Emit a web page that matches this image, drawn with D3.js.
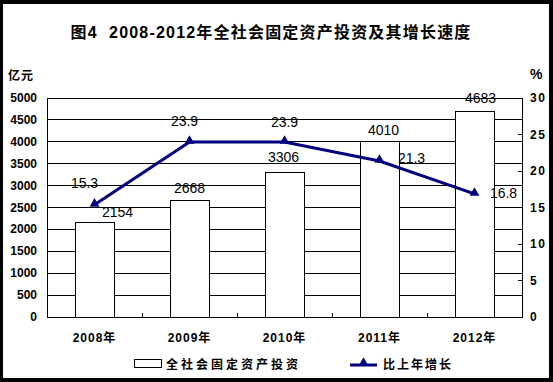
<!DOCTYPE html>
<html>
<head>
<meta charset="utf-8">
<script src="https://cdn.jsdelivr.net/npm/d3@7"></script>
<style>
html,body{margin:0;padding:0;background:#000;}
svg{display:block;}
text{font-family:"Liberation Sans",Arial,"Noto Sans CJK SC",sans-serif;fill:#000;}
.cjk{font-family:"Liberation Sans","Noto Sans CJK SC",sans-serif;font-weight:bold;}
.tick{font-size:12px;font-weight:bold;}
.val{font-size:14px;}
</style>
</head>
<body>
<svg id="chart"></svg>
<script>
const W=553,H=382;
// data
const years=['2008年','2009年','2010年','2011年','2012年'];
const invest=[2154,2668,3306,4010,4683];
const growth=[15.3,23.9,23.9,21.3,16.8];
const leftTicks=[0,500,1000,1500,2000,2500,3000,3500,4000,4500,5000];
const rightTicks=[0,5,10,15,20,25,30];
// label nudges (dx,dy)
const barLabOff=[[23,-5],[0,-7],[-1,-10],[4,-6],[6,-8]];
const lineLabOff=[[-10,-17],[-5,-16],[0,-15],[32,2],[29,4]];

const M={l:47,r:522,t:97.5,b:316.5};
const svg=d3.select('#chart').attr('width',W).attr('height',H);
svg.append('rect').attr('x',3).attr('y',4).attr('width',546).attr('height',374).attr('fill','#fff');

const x=d3.scaleBand().domain(years).range([M.l,M.r]);
const yL=d3.scaleLinear().domain([0,5000]).range([M.b,M.t]);
const yR=d3.scaleLinear().domain([0,30]).range([M.b,M.t]);

// gridlines
svg.append('g').selectAll('line').data(leftTicks).join('line')
  .attr('x1',M.l).attr('x2',M.r)
  .attr('y1',d=>Math.round(yL(d))+0.5).attr('y2',d=>Math.round(yL(d))+0.5)
  .attr('stroke','#000').attr('stroke-width',1);

// bars
const bw=x.bandwidth()*0.41;
svg.append('g').selectAll('rect').data(invest).join('rect')
  .attr('x',(d,i)=>Math.round(x(years[i])+x.bandwidth()/2-bw/2)+0.5)
  .attr('y',d=>Math.round(yL(d))+0.5)
  .attr('width',Math.round(bw))
  .attr('height',d=>Math.round(yL(0))-Math.round(yL(d)))
  .attr('fill','#fff').attr('stroke','#000').attr('stroke-width',1);

// plot frame
svg.append('rect').attr('x',M.l+0.5).attr('y',Math.round(M.t)+0.5)
  .attr('width',M.r-M.l).attr('height',Math.round(M.b)-Math.round(M.t))
  .attr('fill','none').attr('stroke','#000');

// bottom ticks (inside, at category borders)
svg.append('g').selectAll('line').data(years.slice(1)).join('line')
  .attr('x1',d=>Math.round(x(d))+0.5).attr('x2',d=>Math.round(x(d))+0.5)
  .attr('y1',Math.round(M.b)).attr('y2',Math.round(M.b)-4)
  .attr('stroke','#000');
// right ticks (inside)
svg.append('g').selectAll('line').data(rightTicks).join('line')
  .attr('x1',M.r).attr('x2',M.r-4)
  .attr('y1',d=>Math.round(yR(d))+0.5).attr('y2',d=>Math.round(yR(d))+0.5)
  .attr('stroke','#000');

// axis labels
svg.append('g').selectAll('text').data(leftTicks).join('text')
  .attr('class','tick').attr('x',37).attr('y',d=>yL(d)+4.5)
  .attr('text-anchor','end').text(d=>d);
svg.append('g').selectAll('text').data(rightTicks).join('text')
  .attr('class','tick').attr('x',530).attr('y',d=>yR(d)+4.5)
  .style('letter-spacing','1.5px').text(d=>d);
svg.append('g').selectAll('text').data(years).join('text')
  .attr('class','cjk').attr('x',d=>x(d)+x.bandwidth()/2).attr('y',342)
  .attr('text-anchor','middle').style('font-size','12px').style('letter-spacing','1px')
  .text(d=>d);

svg.append('text').attr('class','cjk').attr('x',8).attr('y',80)
  .style('font-size','12px').style('letter-spacing','1px').text('亿元');
svg.append('text').attr('class','tick').attr('x',530).attr('y',79)
  .style('font-size','14px').text('%');

// title
svg.append('text').attr('class','cjk').attr('x',271).attr('y',38)
  .attr('text-anchor','middle').style('font-size','16px').style('letter-spacing','1.2px')
  .style('white-space','pre')
  .text('图4  2008-2012年全社会固定资产投资及其增长速度');

// growth line
const cx=i=>x(years[i])+x.bandwidth()/2;
const line=d3.line().x((d,i)=>cx(i)).y(d=>yR(d));
svg.append('path').datum(growth).attr('d',line)
  .attr('fill','none').attr('stroke','#000080').attr('stroke-width',3);
const tri=d3.symbol().type(d3.symbolTriangle).size(42);
svg.append('g').selectAll('path').data(growth).join('path')
  .attr('d',tri).attr('transform',(d,i)=>`translate(${cx(i)},${yR(d)-1})`)
  .attr('fill','#000080');

// value labels
svg.append('g').selectAll('text').data(invest).join('text')
  .attr('class','val').attr('text-anchor','middle')
  .attr('x',(d,i)=>cx(i)+barLabOff[i][0]).attr('y',(d,i)=>yL(d)+barLabOff[i][1])
  .text(d=>d);
svg.append('g').selectAll('text').data(growth).join('text')
  .attr('class','val').attr('text-anchor','middle')
  .attr('x',(d,i)=>cx(i)+lineLabOff[i][0]).attr('y',(d,i)=>yR(d)+lineLabOff[i][1])
  .text(d=>d.toFixed(1));

// legend
const lg=svg.append('g');
lg.append('rect').attr('x',134.5).attr('y',359.5).attr('width',27).attr('height',8)
  .attr('fill','#fff').attr('stroke','#000');
lg.append('text').attr('class','cjk').attr('x',166).attr('y',369)
  .style('font-size','12px').style('letter-spacing','3px').text('全社会固定资产投资');
lg.append('line').attr('x1',350).attr('x2',377).attr('y1',365).attr('y2',365)
  .attr('stroke','#000080').attr('stroke-width',3);
lg.append('path').attr('d',tri).attr('transform','translate(363.5,363)').attr('fill','#000080');
lg.append('text').attr('class','cjk').attr('x',383).attr('y',369)
  .style('font-size','12px').style('letter-spacing','2px').text('比上年增长');
</script>
</body>
</html>
